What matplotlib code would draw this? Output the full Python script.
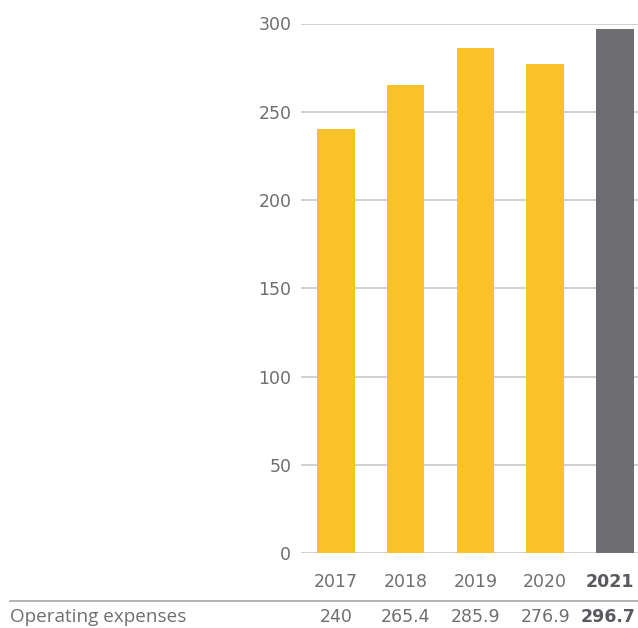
import matplotlib.pyplot as plt
from matplotlib.transforms import blended_transform_factory

years = ["2017", "2018", "2019", "2020", "2021"]
opex = [240, 265.4, 285.9, 276.9, 296.7]
row_label = "Operating expenses"
y_ticks = [0, 50, 100, 150, 200, 250, 300]

YELLOW = "#FCC229"
GREY = "#6E6D71"
TEXT = "#6F6F6F"
DARK = "#5A5A5E"
GRID = "#C8C8C8"

NUM_FONT = ["DejaVu Sans"]
LABEL_FONT = ["Open Sans", "DejaVu Sans"]

W, H = 638, 628
fig = plt.figure(figsize=(W / 100, H / 100), dpi=100)
ax = fig.add_axes([301 / W, 1 - 553 / H, (638 - 301) / W, (553 - 23.5) / H])

colors = [YELLOW] * (len(years) - 1) + [GREY]
x = list(range(len(years)))
ax.bar(x, opex, width=0.54, color=colors, zorder=3)

ax.set_xlim(-0.5, 4.33)
ax.set_ylim(0, 300)
ax.set_yticks(y_ticks)
ax.set_yticklabels([str(v) for v in y_ticks], fontsize=12.5, color=TEXT,
                   family=NUM_FONT)
ax.tick_params(axis="y", length=0, pad=7)
ax.set_xticks([])
ax.yaxis.grid(True, color=GRID, linewidth=1.2, zorder=0)
for s in ax.spines.values():
    s.set_visible(False)

# year labels under each bar and the values row
trans = blended_transform_factory(ax.transData, fig.transFigure)
ftrans = fig.transFigure
for i, yr in enumerate(years):
    last = i == len(years) - 1
    style = dict(va="center", fontsize=12.5, family=NUM_FONT,
                 color=DARK if last else TEXT,
                 fontweight="bold" if last else "normal")
    if last:
        # latest year sits flush with the right edge
        fig.text(634 / W, 1 - 582 / H, yr, ha="right", **style)
        fig.text(636 / W, 1 - 617 / H, f"{opex[i]:g}", ha="right", **style)
    else:
        ax.text(i, 1 - 582 / H, yr, transform=trans, ha="center", **style)
        ax.text(i, 1 - 617 / H, f"{opex[i]:g}", transform=trans,
                ha="center", **style)

# separator line and row label
fig.add_artist(plt.Line2D([10 / W, 1], [1 - 601 / H, 1 - 601 / H],
                          color="#A8A8A8", linewidth=1.2))
fig.text(10 / W, 1 - 617 / H, row_label, ha="left", va="center",
         fontsize=13.6, color=TEXT, family=LABEL_FONT)

fig.savefig("out.png", dpi=100)
